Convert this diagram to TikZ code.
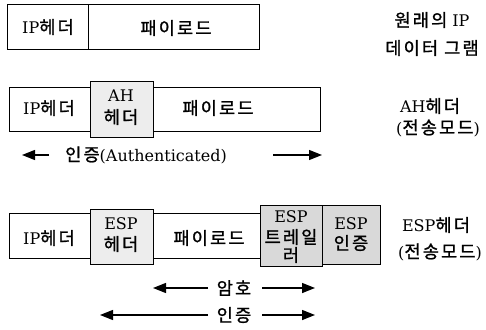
\documentclass[tikz,border=0pt]{standalone}
\usepackage{fontspec}
\setmainfont{DejaVu Serif}
\newfontfamily\kr{Noto Sans CJK KR}[Scale=1.1,LetterSpace=12,FakeBold=1.2]
\usetikzlibrary{arrows.meta}
\begin{document}
\begin{tikzpicture}[x=1pt,y=-1pt,
  cell/.style={draw=black,line width=0.9pt},
  lite/.style={cell,fill=gray!14},
  dark/.style={cell,fill=gray!30},
  lbl/.style={inner sep=0pt,font=\fontsize{16}{18}\selectfont,align=center},
  arr/.style={line width=1.4pt,-{Triangle[length=13pt,width=10pt]}}]
\useasboundingbox (0,0) rectangle (486,329);
% row 1
\draw[cell] (7,4) rectangle (88,49);
\draw[cell] (88,4) rectangle (259,49);
\node[lbl] (r1ip) at (48,27) {IP{\kr 헤더}};
\node[lbl] (r1pl) at (176,28) {{\kr 패이로드}};
\node[lbl] (r1a) at (432,20) {{\kr 원래의} IP};
\node[lbl] (r1b) at (432,48) {{\kr 데이터 그램}};
% row 2
\draw[cell] (9,87) rectangle (90,131);
\draw[cell] (153,87) rectangle (320,131);
\draw[lite] (90,81) rectangle (153,137);
\node[lbl] (r2ip) at (49,108) {IP{\kr 헤더}};
\node[lbl] (r2ah) at (121,96) {AH};
\node[lbl] (r2ahb) at (121,117) {{\kr 헤더}};
\node[lbl] (r2pl) at (218,108) {{\kr 패이로드}};
\node[lbl] (r2a) at (430,106) {AH{\kr 헤더}};
\node[lbl] (r2b) at (438,128) {({\kr 전송모드})};
\node[lbl] (auth) at (146,155) {{\kr 인증}(Authenticated)};
\coordinate (a2l) at (22,155);
\coordinate (a2r) at (322,155);
\coordinate (a2ls) at (49,155);
\coordinate (a2rs) at (273,155);
\draw[arr] (a2ls) -- (a2l);
\draw[arr] (a2rs) -- (a2r);
% row 3
\draw[cell] (9,213) rectangle (90,258);
\draw[cell] (153,213) rectangle (260,258);
\draw[lite] (90,209) rectangle (153,264);
\draw[dark] (260,205) rectangle (322,266);
\draw[dark] (322,205) rectangle (380,264);
\node[lbl] (r3ip) at (49,238) {IP{\kr 헤더}};
\node[lbl] (r3e1) at (121,224) {ESP};
\node[lbl] (r3e2) at (121,244) {{\kr 헤더}};
\node[lbl] (r3pl) at (209,238) {{\kr 패이로드}};
\node[lbl] (r3t1) at (291,217) {ESP};
\node[lbl] (r3t2) at (291,237) {{\kr 트레일}};
\node[lbl] (r3t3) at (291,255) {{\kr 러}};
\node[lbl] (r3u1) at (351,224) {ESP};
\node[lbl] (r3u2) at (351,243) {{\kr 인증}};
\node[lbl] (r3a) at (436,225) {ESP{\kr 헤더}};
\node[lbl] (r3b) at (440,252) {({\kr 전송모드})};
\node[lbl] (enc) at (234,288) {{\kr 암호}};
\node[lbl] (au3) at (234,315) {{\kr 인증}};
\coordinate (e1) at (153,288);
\coordinate (e2) at (315,288);
\coordinate (u1) at (100,315);
\coordinate (u2) at (315,315);
\draw[arr] (208,288) -- (e1);
\draw[arr] (262,288) -- (e2);
\draw[arr] (208,315) -- (u1);
\draw[arr] (262,315) -- (u2);
\end{tikzpicture}
\end{document}
